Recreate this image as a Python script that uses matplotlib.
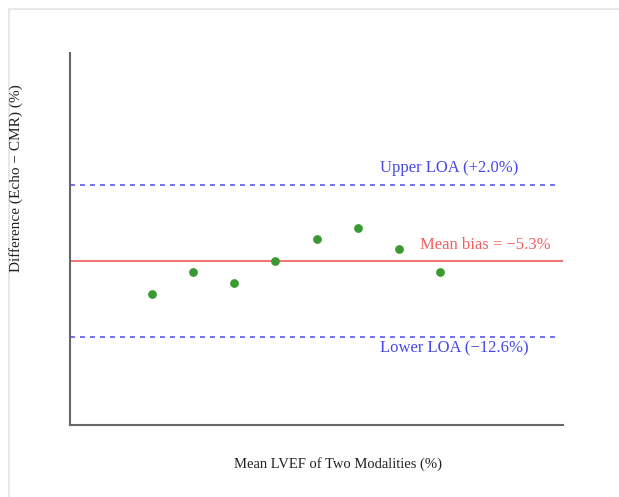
import matplotlib.pyplot as plt
import numpy as np

# Bland-Altman data
mean_lvef = [30, 35, 40, 45, 50, 55, 60, 65]
diff = [-8.5, -6.4, -7.4, -5.3, -3.2, -2.1, -4.2, -6.4]
bias = -5.3
upper_loa = 2.0
lower_loa = -12.6

plt.rcParams['font.family'] = ['Liberation Serif', 'DejaVu Serif']

fig = plt.figure(figsize=(6.19, 4.97), dpi=100)
ax = fig.add_axes([70/619, 1-425/497, (563-70)/619, (425-53)/497])

# light frame around the figure
fig.patches.append(plt.Rectangle((9/619, -0.1), 1.2, 1-9/497+0.1, transform=fig.transFigure,
                                 fill=False, edgecolor='#e4e4e4', linewidth=1.2))

ax.scatter(mean_lvef, diff, s=28, color='#3a9a32', zorder=3)
ax.axhline(bias, color='#f07878', linewidth=1.5)
ax.axhline(upper_loa, color='#5a5af0', linestyle=(0, (3, 3)), linewidth=1.2, xmax=0.99)
ax.axhline(lower_loa, color='#5a5af0', linestyle=(0, (3, 3)), linewidth=1.2, xmax=0.99)

ax.text(57.7, upper_loa + 1.55, 'Upper LOA (+2.0%)', color='#4848e8', fontsize=12, va='center')
ax.text(62.6, bias + 1.5, 'Mean bias = \u22125.3%', color='#f06060', fontsize=12, va='center')
ax.text(57.7, lower_loa - 1.1, 'Lower LOA (\u221212.6%)', color='#4848e8', fontsize=12, va='center')

ax.set_xlim(20, 80)
ax.set_ylim(-21, 14.6)
ax.set_xticks([])
ax.set_yticks([])
for s in ['top', 'right']:
    ax.spines[s].set_visible(False)
for s in ['left', 'bottom']:
    ax.spines[s].set_color('#666666')
    ax.spines[s].set_linewidth(1.5)

fig.text(338/619, 1-464/497, 'Mean LVEF of Two Modalities (%)', ha='center', va='center',
         fontsize=10.5, color='#222222')
fig.text(16/619, 1-178/497, 'Difference (Echo \u2212 CMR) (%)', ha='center', va='center',
         rotation=90, fontsize=11, color='#222222')

fig.savefig('out.png', dpi=100)
